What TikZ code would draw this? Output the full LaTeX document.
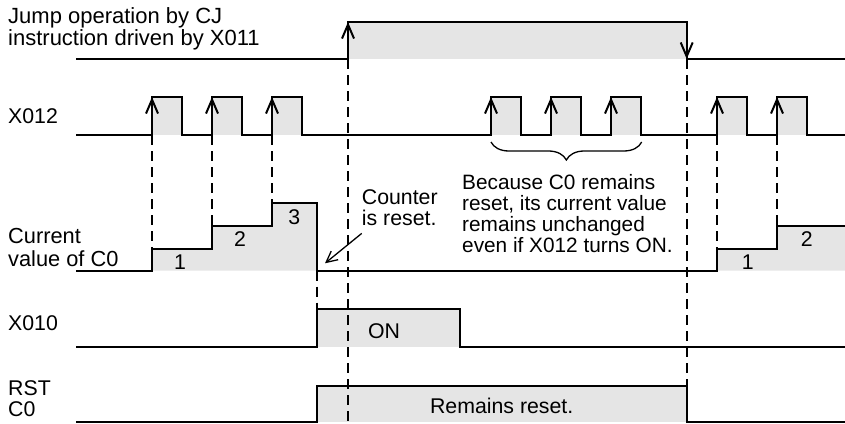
\documentclass[tikz,border=0pt]{standalone}
\usepackage{fontspec}
\setmainfont{Liberation Sans}
\usetikzlibrary{arrows.meta, decorations.pathreplacing}

\begin{document}
\begin{tikzpicture}[
        x=1pt, y=-1pt,
        font=\fontsize{21.3}{21}\selectfont,
        wave/.style={draw, line width=2pt},
        edgearrow/.style={draw, line width=2pt, -{Straight Barb[length=14pt, width=12pt]}},
        hi/.style={fill=gray!20},
        guide/.style={draw, line width=2pt, dash pattern=on 10pt off 6pt},
        tag/.style={anchor=base west, inner sep=0pt, align=left},
        numtext/.style={anchor=base, inner sep=0pt},
        pointer/.style={draw, line width=1.3pt, -{Straight Barb[length=11pt, width=11pt]}},
        curly/.style={draw, line width=1.3pt, decorate, decoration={brace,
        mirror, amplitude=18pt}}
      ]
      \useasboundingbox (0,0) rectangle (845,423);

      % grey areas
      \fill[hi] (348,22) rectangle (686.7,59);
      \foreach \t in {152,212,272,491,551,611,717,777}
        \fill[hi] (\t,97) rectangle (\t+30,135);
      \fill[hi] (152,270.7) |- (212,249) |- (272,226) |- (316.7,203)
      -- (316.7,270.7) -- cycle;
      \fill[hi] (717,270.7) |- (777,249) |- (845,226) -- (845,270.7) -- cycle;
      \fill[hi] (316.7,309) rectangle (460,346.7);
      \fill[hi] (316.7,385.7) rectangle (686.7,421.7);

      % dashed guides
      \foreach \t/\lv in {152/249, 212/226, 272/203, 717/249, 777/226}
        \path[guide] (\t,135) -- (\t,\lv);
      \path[guide] (348,59) -- (348,423);
      \path[guide] (686.7,59) -- (686.7,385.7);
      \path[guide] (316.7,270.7) -- (316.7,309);

      % waveforms
      \path[wave] (76,59) -- (348,59) -- (348,22) -- (686.7,22)
      -- (686.7,59) -- (845,59);
      \path[edgearrow] (348,59) -- (348,22);
      \path[edgearrow] (686.7,22) -- (686.7,59);

      \path[wave] (76,135) \foreach \t in {152,212,272,491,551,611,717,777}
      { -- (\t,135) -- (\t,97) -- (\t+30,97) -- (\t+30,135) } -- (845,135);
      \foreach \t in {152,212,272,491,551,611,717,777}
        \path[edgearrow] (\t,135) -- (\t,97);

      \path[wave] (76,270.7) -- (152,270.7) |- (212,249) |- (272,226)
      |- (316.7,203) -- (316.7,270.7) -- (717,270.7) |- (777,249)
      |- (845,226);

      \path[wave] (76,346.7) -- (316.7,346.7) -- (316.7,309) -- (460,309)
      -- (460,346.7) -- (845,346.7);

      \path[wave] (76,421.7) -- (316.7,421.7) -- (316.7,385.7)
      -- (686.7,385.7) -- (686.7,421.7) -- (845,421.7);

      % texts (base = last line)
      \node[tag, font=\fontsize{22}{20}\selectfont] (cj) at (8,45)
      {Jump operation by CJ\\instruction driven by X011};
      \node[tag] (x12) at (8,123.3) {X012};
      \node[tag, font=\fontsize{21.8}{23}\selectfont] (cv) at (8,266.7)
      {Current\\value of C0};
      \node[tag] (x10) at (8,330) {X010};
      \node[tag] (rst) at (8,416.3) {RST\\C0};

      \node[numtext] (n1) at (180,269) {1};
      \node[numtext] (n2) at (240,246.7) {2};
      \node[numtext] (n3) at (294.3,224) {3};
      \node[numtext] (m1) at (747.7,269) {1};
      \node[numtext] (m2) at (806.7,246.7) {2};

      \node[numtext] (ontext) at (384,338) {ON};
      \node[numtext] (resettext) at (501.7,413) {Remains reset.};

      \node[tag] (cnt) at (361.7,225) {Counter\\is reset.};
      \coordinate (c0drop) at (325,263.3);
      \path[pointer] ([yshift=-8pt]cnt.south west) -- (c0drop);

      \path[curly] (491,142) -- (641.7,142);
      \node[tag, font=\fontsize{20.8}{21}\selectfont] (note) at (462,252.3)
      {Because C0 remains\\reset, its current value\\remains unchanged\\even
      if X012 turns ON.};

    \end{tikzpicture}
\end{document}
